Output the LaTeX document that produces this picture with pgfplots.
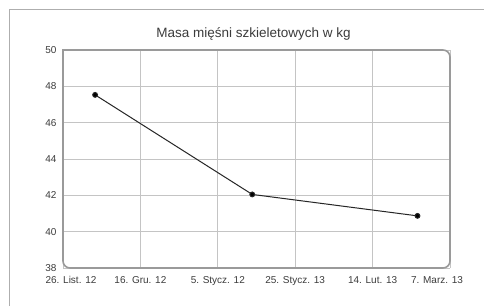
\documentclass[border=0pt]{standalone}
\usepackage{pgfplots}
\pgfplotsset{compat=1.18}
\usepackage{fontspec}
\setmainfont{Liberation Sans}
\definecolor{txt}{HTML}{3C3C3C}
\definecolor{gridc}{HTML}{C4C4C4}
\definecolor{framec}{HTML}{9A9A9A}
\begin{document}
\begin{tikzpicture}[x=1pt,y=1pt]
\useasboundingbox (0,0) rectangle (484,306);
\fill[white] (0,0) rectangle (484,306);
\draw[framec!80, line width=0.9pt] (9,0) -- (9,297) -- (484,297);
\begin{axis}[
  at={(63pt,38pt)}, anchor=south west,
  scale only axis, width=387pt, height=218pt,
  xmin=0, xmax=100, ymin=38, ymax=50,
  xtick={0,20,40,60,80,100},
  xticklabels={\rule{16pt}{0pt}26. List. 12, 16. Gru. 12, 5. Stycz. 12, 25. Stycz. 13, 14. Lut. 13, 7. Marz. 13\rule{26pt}{0pt}},
  ytick={38,40,...,50},
  axis line style={draw=none},
  major tick length=0pt,
  grid=major,
  major grid style={gridc, line width=0.8pt},
  tick label style={font=\fontsize{10}{12}\selectfont, text=txt},
  yticklabel style={xshift=-3pt},
  xticklabel style={yshift=-5pt},
  /pgf/number format/assume math mode=true,
  clip=false,
  after end axis/.code={
    \draw[framec, line width=1.6pt] (rel axis cs:0,0.5) -- (rel axis cs:0,1) -- (rel axis cs:0.5,1)
      [rounded corners=7pt] -- (rel axis cs:1,1) -- (rel axis cs:1,0) -- (rel axis cs:0,0) -- (rel axis cs:0,0.5);
    \node[anchor=base, text=txt, font=\fontsize{13.5}{15}\selectfont] at ([xshift=-3pt,yshift=12pt]rel axis cs:0.5,1) {Masa mięśni szkieletowych w kg};
  },
]
\addplot[black!85, line width=1pt, mark=*, mark size=2.4pt, mark options={fill=black}] coordinates {
  (8.3,47.53) (48.9,42.05) (91.6,40.87)
};
\end{axis}
\end{tikzpicture}
\end{document}
